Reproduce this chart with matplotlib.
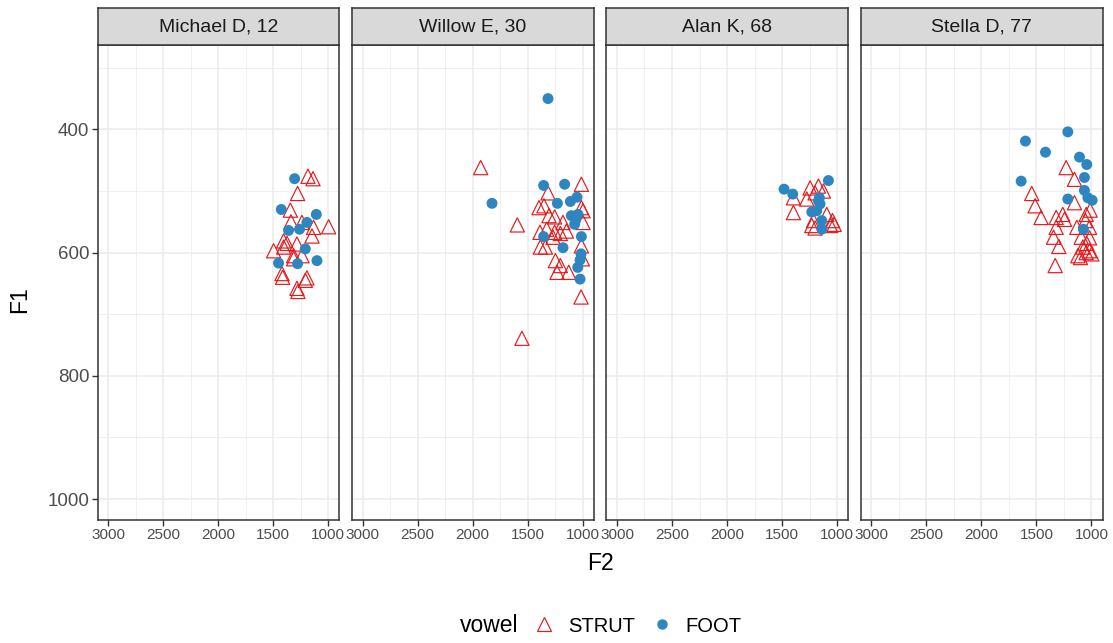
import matplotlib
matplotlib.use("Agg")
import matplotlib.pyplot as plt
from matplotlib.lines import Line2D
from matplotlib.ticker import FixedLocator

plt.rcParams['font.family'] = ['Liberation Sans', 'DejaVu Sans']

speakers = ["Michael D, 12", "Willow E, 30", "Alan K, 68", "Stella D, 77"]

# ---- Michael D, 12 ----
michael_strut_f2 = [1185, 1139, 1279, 1345, 1339, 1239, 1134, 997, 1148, 1406, 1375, 1285,
                    1406, 1497, 1315, 1239, 1315, 1421, 1415, 1194, 1209, 1285, 1276]
michael_strut_f1 = [476, 480, 504, 531, 550, 551, 559, 558, 573, 581, 585, 586,
                    591, 597, 605, 605, 610, 634, 640, 641, 645, 658, 663]
michael_foot_f2 = [1306, 1427, 1109, 1194, 1261, 1361, 1209, 1103, 1452, 1279]
michael_foot_f1 = [480, 530, 538, 551, 562, 564, 594, 613, 617, 618]

# ---- Willow E, 30 ----
willow_strut_f2 = [1927, 1594, 1552, 1012, 1315, 1397, 1352, 1012, 997, 1306, 1255, 1179,
                   997, 1388, 1327, 1255, 1203, 1148, 1270, 1385, 1339, 1012, 1248, 1203,
                   1233, 1127, 1003, 1015]
willow_strut_f1 = [462, 555, 739, 489, 503, 527, 524, 527, 532, 540, 542, 551,
                   551, 567, 562, 567, 569, 565, 575, 591, 591, 589, 613, 621,
                   632, 632, 610, 672]
willow_foot_f2 = [1315, 1824, 1355, 1164, 1230, 1112, 1052, 1103, 1043, 1073, 1012, 1355,
                  1179, 1015, 1024, 1045, 1024, 1064]
willow_foot_f1 = [350, 520, 491, 489, 520, 517, 510, 540, 538, 554, 574, 574,
                  592, 602, 612, 624, 643, 547]

# ---- Alan K, 68 ----
alan_strut_f2 = [1397, 1397, 1276, 1245, 1170, 1124, 1200, 1094, 1215, 1230, 1200, 1042,
                 1027, 1058]
alan_strut_f1 = [535, 511, 513, 495, 492, 500, 503, 538, 548, 556, 560, 548,
                 554, 556]
alan_foot_f2 = [1482, 1403, 1079, 1161, 1155, 1185, 1230, 1139, 1139, 1170]
alan_foot_f1 = [497, 505, 483, 511, 521, 532, 534, 548, 562, 516]

# ---- Stella D, 77 ----
stella_strut_f2 = [1230, 1155, 1543, 1512, 1458, 1321, 1261, 1245, 1155, 1321, 1345, 1297,
                   1330, 1133, 1048, 1012, 1055, 1018, 1094, 1018, 1043, 1079, 1018, 997,
                   1048, 1100, 1124]
stella_strut_f1 = [462, 481, 504, 524, 543, 543, 538, 546, 519, 559, 575, 590,
                   621, 559, 538, 531, 548, 559, 575, 576, 585, 591, 597, 602,
                   600, 608, 605]
stella_foot_f2 = [1215, 1600, 1418, 1109, 1043, 1064, 1639, 1064, 1033, 994, 1215, 1073]
stella_foot_f1 = [404, 419, 437, 445, 457, 478, 484, 499, 511, 515, 513, 562]

strut_f2 = [michael_strut_f2, willow_strut_f2, alan_strut_f2, stella_strut_f2]
strut_f1 = [michael_strut_f1, willow_strut_f1, alan_strut_f1, stella_strut_f1]
foot_f2 = [michael_foot_f2, willow_foot_f2, alan_foot_f2, stella_foot_f2]
foot_f1 = [michael_foot_f1, willow_foot_f1, alan_foot_f1, stella_foot_f1]

x_ticks = [3000, 2500, 2000, 1500, 1000]
y_ticks = [400, 600, 800, 1000]

RED = '#E41A1C'
BLUE = '#2E86C1'
DARK = '#333333'
GRID = '#EBEBEB'

W, H = 1113, 643
fig = plt.figure(figsize=(W / 100, H / 100), dpi=100)

panel_left0 = 97.5
panel_step = 254.4
panel_w = 241.8
panel_top = 45
panel_bot = 520
strip_top = 7.5

for k, name in enumerate(speakers):
    left = panel_left0 + k * panel_step
    ax = fig.add_axes([left / W, 1 - panel_bot / H, panel_w / W, (panel_bot - panel_top) / H])
    ax.set_xlim(3097, 900)
    ax.set_ylim(1034, 263)
    ax.xaxis.set_major_locator(FixedLocator(x_ticks))
    ax.xaxis.set_minor_locator(FixedLocator([2750, 2250, 1750, 1250]))
    ax.yaxis.set_major_locator(FixedLocator(y_ticks))
    ax.yaxis.set_minor_locator(FixedLocator([300, 500, 700, 900]))
    ax.grid(True, which='major', color=GRID, linewidth=1.1, zorder=0)
    ax.grid(True, which='minor', color=GRID, linewidth=0.55, zorder=0)
    ax.set_axisbelow(True)
    for s in ax.spines.values():
        s.set_color(DARK)
        s.set_linewidth(1.1)
    ax.tick_params(which='major', direction='out', length=4, width=1.0, color=DARK,
                   labelcolor='#4D4D4D')
    ax.tick_params(which='minor', length=0)
    ax.tick_params(axis='x', labelsize=11, pad=2)
    ax.tick_params(axis='y', labelsize=13.5, pad=2)
    if k > 0:
        ax.tick_params(axis='y', which='both', left=False, labelleft=False)

    ax.scatter(strut_f2[k], strut_f1[k], marker='^', s=105, facecolors='none',
               edgecolors=RED, linewidths=0.85, zorder=3, label='STRUT')
    ax.scatter(foot_f2[k], foot_f1[k], marker='o', s=62, color=BLUE,
               edgecolors='none', zorder=4, label='FOOT')

    sax = fig.add_axes([left / W, 1 - panel_top / H, panel_w / W, (panel_top - strip_top) / H])
    sax.set_facecolor('#D9D9D9')
    sax.set_xticks([])
    sax.set_yticks([])
    for s in sax.spines.values():
        s.set_color(DARK)
        s.set_linewidth(1.1)
    sax.text(0.5, 0.47, name, ha='center', va='center', fontsize=14, color='#1A1A1A',
             transform=sax.transAxes)

fig.text(20 / W, 1 - 300 / H, 'F1', rotation=90, ha='center', va='center', fontsize=16.5)
fig.text(600 / W, 1 - 563 / H, 'F2', ha='center', va='center', fontsize=16.5)

fig.text(489 / W, 1 - 625 / H, 'vowel', ha='center', va='center', fontsize=16.5)
handles = [
    Line2D([], [], marker='^', linestyle='none', markerfacecolor='none',
           markeredgecolor=RED, markersize=10, markeredgewidth=0.85, label='STRUT'),
    Line2D([], [], marker='o', linestyle='none', color=BLUE, markersize=7.5,
           markeredgewidth=0, label='FOOT'),
]
fig.legend(handles=handles, loc='center', bbox_to_anchor=(637 / W, 1 - 626 / H),
           ncol=2, frameon=False, fontsize=14.5, handletextpad=0.6, columnspacing=0.7,
           handlelength=1.2, borderpad=0.2)

fig.savefig('out.png', dpi=100)
